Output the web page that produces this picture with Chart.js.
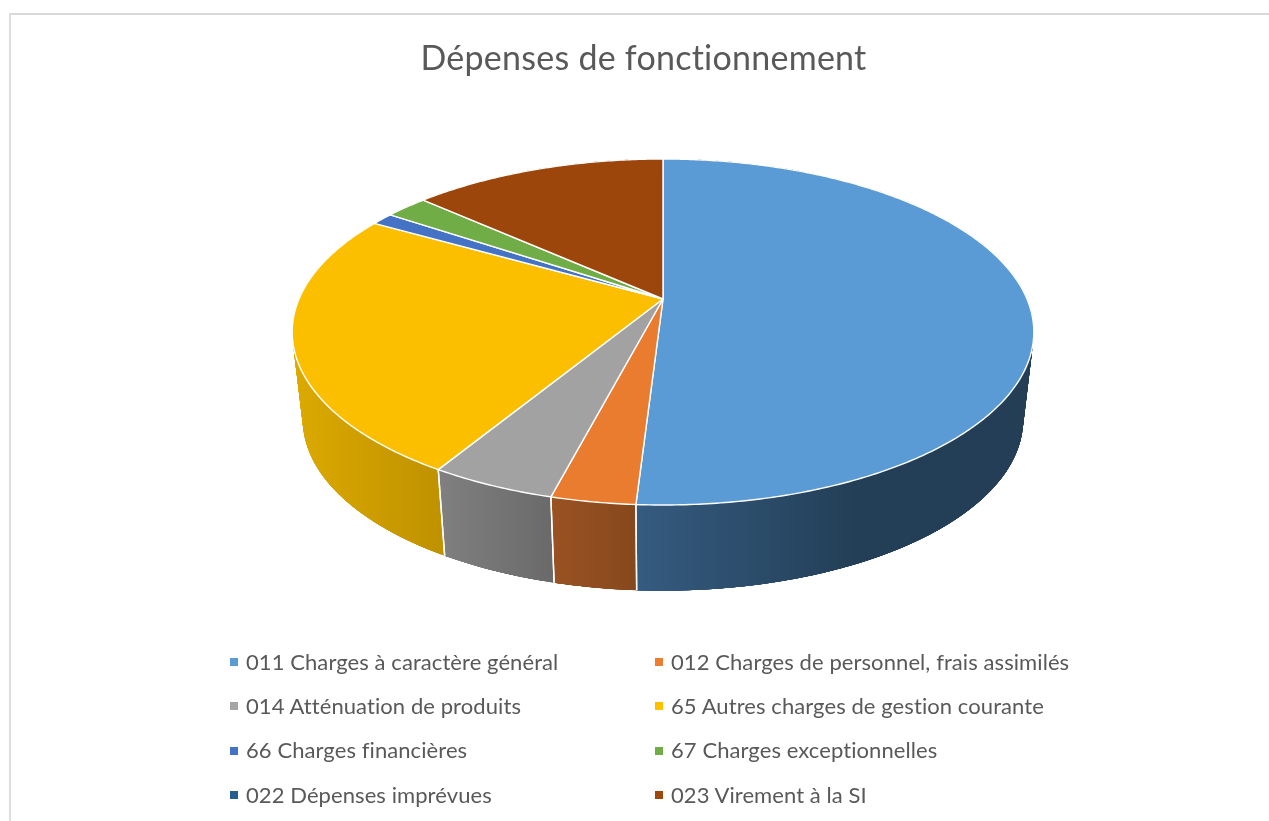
<!DOCTYPE html>
<html>
<head>
  <title>Dépenses de fonctionnement</title>
  <meta charset="UTF-8" />
  <script src="https://cdn.jsdelivr.net/npm/chart.js"></script>
  <style>
    html, body {
      margin: 0;
      background: #fff;
      overflow: hidden;
    }
    #frame {
      position: absolute;
      left: 9px;
      top: 13px;
      width: 1400px;
      height: 1000px;
      border-left: 2px solid #dedede;
      border-top: 2px solid #d9d9d9;
    }
    #chart {
      position: absolute;
      left: 0;
      top: 0;
    }
    #legend {
      position: absolute;
      left: 230px;
      top: 640px;
      display: grid;
      grid-template-columns: 425px 440px;
      grid-auto-rows: 44.3px;
      font-family: Lato, sans-serif;
      font-size: 22px;
      letter-spacing: 0.08px;
      color: #595959;
    }
    .item {
      display: flex;
      align-items: center;
      white-space: nowrap;
    }
    .box {
      width: 8px;
      height: 8px;
      margin-right: 8px;
    }
    .label {
      position: relative;
      top: -1px;
    }
  </style>
</head>
<body>
  <div id="frame"></div>
  <canvas id="chart" width="1287" height="821"></canvas>
  <div id="legend"></div>

  <script>
const categories = [
  '011 Charges à caractère général',
  '012 Charges de personnel, frais assimilés',
  '014 Atténuation de produits',
  '65 Autres charges de gestion courante',
  '66 Charges financières',
  '67 Charges exceptionnelles',
  '022 Dépenses imprévues',
  '023 Virement à la SI'
];
const values = [50.96, 3.08, 4.6, 24.63, 1.17, 2.23, 0, 13.33];
const colors = ['#5b9bd5', '#ed7d31', '#a5a5a5', '#ffc000', '#4472c4', '#70ad47', '#255e91', '#9e480e'];
const topColors = ['#5b9bd5', '#ea7c30', '#a2a2a2', '#fbbf00', '#4472c4', '#70ad47', '#255e91', '#9c460c'];
const wallShades = [
  ['#355b80', '#233f57', '#233e55'],
  ['#9a5222', '#86481c'],
  ['#808080', '#6a6a6a'],
  ['#dcaa00', '#c09200'],
  ['#33568f', '#33568f'],
  ['#547f35', '#547f35'],
  ['#1c4668', '#1c4668'],
  ['#773608', '#773608']
];

// perspective of the disc: top face and bottom face of the cylinder
const CX = 663, K = 0.1908;
const TOP_FACE = { y: 299, a: 166.7, b: 364 };
const BOTTOM_FACE = { y: 387, a: 164.8, b: 353.6 };

function project(face, angle) {
  // angle comes from the arc element, 0 would be 3 o'clock
  const t = angle + Math.PI / 2;
  const u = Math.sin(t), v = Math.cos(t);
  const w = 1 + K * v;
  return { x: CX + face.b * u / w, y: face.y - face.a * v / w, v };
}

function rim(start, end) {
  const pts = [];
  const n = Math.max(2, Math.ceil((end - start) / 0.01));
  for (let i = 0; i <= n; i++) pts.push(start + (end - start) * i / n);
  return pts;
}

const pie3d = {
  id: 'pie3d',
  beforeDatasetDraw(chart, args) {
    const ctx = chart.ctx;
    const arcs = chart.getDatasetMeta(args.index).data;
    ctx.save();
    ctx.lineJoin = 'round';

    // side walls first, the top face hides what is at the back
    arcs.forEach((arc, i) => {
      if (arc.endAngle - arc.startAngle <= 0) return;
      const angles = rim(arc.startAngle, arc.endAngle);
      const front = angles.map(a => project(TOP_FACE, a)).filter(p => p.v < 0.1);
      const xs = front.length ? front.map(p => p.x) : [0, 1];
      const grad = ctx.createLinearGradient(Math.min(...xs), 0, Math.max(...xs), 0);
      const shades = wallShades[i];
      shades.forEach((c, j) => {
        // the dark end of the long blue wall is reached about half way
        const stop = shades.length === 3 ? [0, 0.55, 1][j] : j / (shades.length - 1);
        grad.addColorStop(stop, c);
      });
      ctx.fillStyle = grad;

      // ribbon between the two rims, no gaps inside
      ctx.beginPath();
      angles.forEach((a, j) => {
        const p = project(TOP_FACE, a);
        if (j === 0) ctx.moveTo(p.x, p.y); else ctx.lineTo(p.x, p.y);
      });
      angles.slice().reverse().forEach(a => {
        const p = project(BOTTOM_FACE, a);
        ctx.lineTo(p.x, p.y);
      });
      ctx.closePath();
      ctx.fill();

      // overlapping quads add the straight edges at the far left and right
      for (let j = 0; j < angles.length - 1; j++) {
        const next = angles[Math.min(j + 6, angles.length - 1)];
        const a = project(TOP_FACE, angles[j]), b = project(TOP_FACE, next);
        const c = project(BOTTOM_FACE, next), d = project(BOTTOM_FACE, angles[j]);
        ctx.beginPath();
        ctx.moveTo(a.x, a.y);
        ctx.lineTo(b.x, b.y);
        ctx.lineTo(c.x, c.y);
        ctx.lineTo(d.x, d.y);
        ctx.closePath();
        ctx.fill();
      }
    });

    // seams between the walls
    ctx.strokeStyle = '#fff';
    ctx.lineWidth = 1.4;
    arcs.forEach(arc => {
      if (arc.endAngle - arc.startAngle <= 0) return;
      [arc.startAngle, arc.endAngle].forEach(a => {
        const p = project(TOP_FACE, a), q = project(BOTTOM_FACE, a);
        ctx.beginPath();
        ctx.moveTo(p.x, p.y);
        ctx.lineTo(q.x, q.y);
        ctx.stroke();
      });
    });

    // top face
    arcs.forEach((arc, i) => {
      if (arc.endAngle - arc.startAngle <= 0) return;
      ctx.beginPath();
      ctx.moveTo(CX, TOP_FACE.y);
      rim(arc.startAngle, arc.endAngle).forEach(a => {
        const p = project(TOP_FACE, a);
        ctx.lineTo(p.x, p.y);
      });
      ctx.closePath();
      ctx.fillStyle = topColors[i];
      ctx.fill();
      ctx.stroke();
    });

    ctx.restore();
    return false;
  }
};

// a small letter spacing also switches off the ti ligature of Lato
const noLigatures = {
  id: 'noLigatures',
  beforeDraw(chart) {
    chart.ctx.letterSpacing = '0.25px';
  }
};

const chart = new Chart(document.getElementById('chart'), {
  type: 'pie',
  data: {
    labels: categories,
    datasets: [{ data: values, backgroundColor: colors, borderColor: '#fff', borderWidth: 1 }]
  },
  options: {
    responsive: false,
    animation: false,
    plugins: {
      legend: { display: false },
      tooltip: { enabled: false },
      title: {
        display: true,
        text: 'Dépenses de fonctionnement',
        color: '#595959',
        font: { family: 'Lato, sans-serif', size: 34, weight: 'normal' },
        padding: { top: 39, bottom: 10 }
      }
    }
  },
  plugins: [noLigatures, pie3d]
});

// legend in two columns, from the chart's own labels
const legendBox = document.getElementById('legend');
Chart.overrides.pie.plugins.legend.labels.generateLabels(chart).forEach(item => {
  const el = document.createElement('div');
  el.className = 'item';
  const box = document.createElement('span');
  box.className = 'box';
  box.style.background = item.fillStyle;
  const text = document.createElement('span');
  text.className = 'label';
  text.textContent = item.text;
  el.append(box, text);
  legendBox.appendChild(el);
});
  </script>
</body>
</html>
